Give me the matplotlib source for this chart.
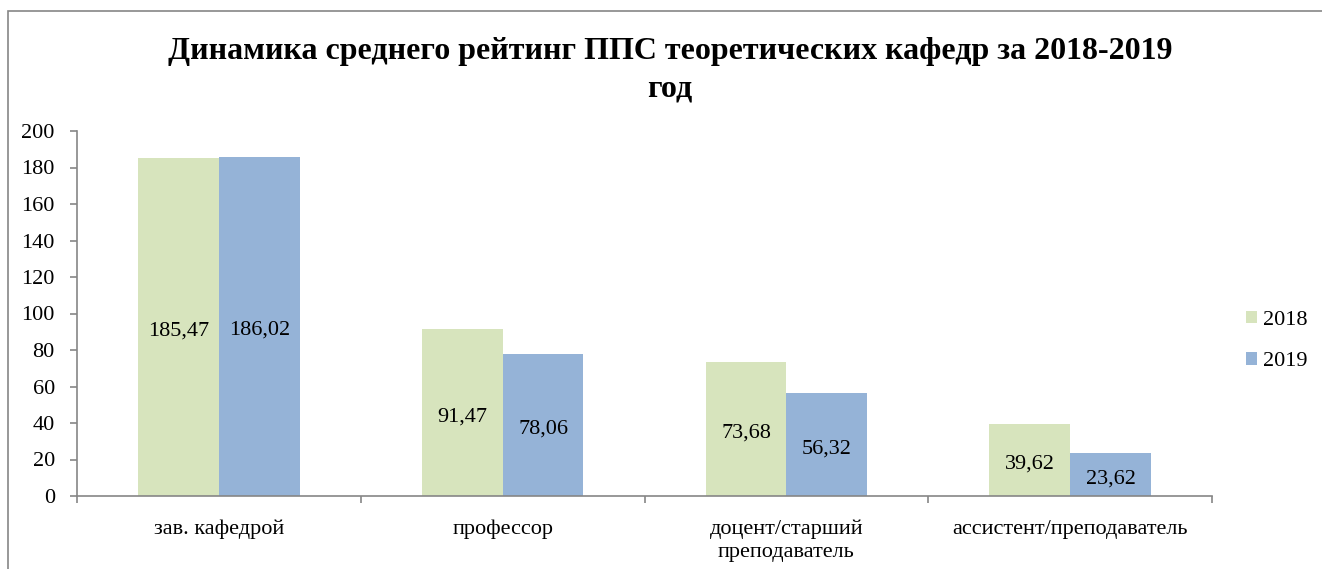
import numpy as np
import matplotlib
matplotlib.use('Agg')
from matplotlib import pyplot as plt
from matplotlib.patches import Rectangle

plt.rcParams['font.family'] = ['Liberation Serif', 'DejaVu Serif']

# data
categories = ['зав. кафедрой', 'профессор', 'доцент/старший\nпреподаватель', 'ассистент/преподаватель']
values_2018 = [185.47, 91.47, 73.68, 39.62]
values_2019 = [186.02, 78.06, 56.32, 23.62]
series_names = ['2018', '2019']
colors = ['#D7E4BD', '#95B3D7']
title = 'Динамика среднего рейтинг ППС теоретических кафедр за 2018-2019\nгод'

W, H = 1322, 569
fig = plt.figure(figsize=(W / 100, H / 100), dpi=100)
ax = fig.add_axes([77 / W, 1 - 496 / H, (1212 - 77) / W, (496 - 131) / H])

# outer border of the chart area
fig.patches.append(Rectangle((8 / W, -0.1), 1.1, 1 - 11 / H + 0.1, transform=fig.transFigure,
                             fill=False, edgecolor='#868686', linewidth=1.2))

x = np.arange(len(categories))
width = 0.285
axis_col = '#868686'
fs = 16

bars1 = ax.bar(x - width / 2, values_2018, width, color=colors[0], label=series_names[0])
bars2 = ax.bar(x + width / 2, values_2019, width, color=colors[1], label=series_names[1])

for bars in (bars1, bars2):
    labels = [f'{b.get_height():.2f}'.replace('.', ',') for b in bars]
    ax.bar_label(bars, labels=labels, label_type='center', fontsize=fs, padding=-3)

ax.set_xlim(-0.5, len(categories) - 0.5)
ax.set_ylim(0, 200)
ax.set_yticks(np.arange(0, 201, 20))
ax.tick_params(axis='y', labelsize=fs, color=axis_col, length=5, width=1.2, pad=11)

ax.set_xticks(np.arange(-0.5, len(categories), 1.0))
ax.set_xticklabels([])
ax.set_xticks(x, minor=True)
ax.set_xticklabels(categories, minor=True, fontsize=fs, linespacing=1.3)
ax.tick_params(axis='x', which='major', color=axis_col, length=5, width=1.2)
ax.tick_params(axis='x', which='minor', length=0, pad=17)

for s in ('top', 'right'):
    ax.spines[s].set_visible(False)
for s in ('left', 'bottom'):
    ax.spines[s].set_color(axis_col)
    ax.spines[s].set_linewidth(1.2)

fig.text(670 / W, 1 - 70 / H, title, ha='center', va='center', fontsize=23,
         fontweight='bold', linespacing=1.38)

leg = fig.legend(handles=[bars1, bars2], labels=series_names, loc='center left',
                 bbox_to_anchor=(1226 / W, 1 - 341 / H), frameon=False, fontsize=fs,
                 handlelength=0.5, handleheight=0.5, handletextpad=0.25, labelspacing=1.0)

fig.savefig('out.png', dpi=100)
